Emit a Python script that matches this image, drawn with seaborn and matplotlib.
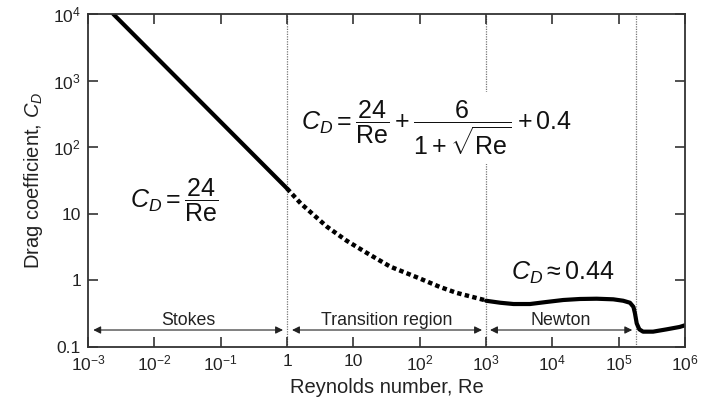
import matplotlib
matplotlib.use("Agg")
import matplotlib.pyplot as plt
import seaborn as sns
import pandas as pd
from matplotlib.ticker import FixedLocator, FixedFormatter, NullLocator

# ---- data ----
stokes_re = [2.4e-3, 1.0]
stokes_cd = [1.0e4, 24.0]

trans_re = [1.0, 1.6, 2.5, 4.0, 7.9, 16.0, 36.0, 100.0, 200.0, 360.0, 1000.0]
trans_cd = [24.0, 14.4, 9.7, 6.4, 3.95, 2.58, 1.61, 1.07, 0.80, 0.65, 0.50]

newton_re = [1000, 1640, 2600, 4600, 8100, 14600, 26000, 46500, 83000, 117000,
             148000, 167000, 176000, 187000, 205000, 233000, 330000, 525000,
             830000, 1000000]
newton_cd = [0.495, 0.462, 0.442, 0.442, 0.474, 0.508, 0.526, 0.531, 0.52, 0.495,
             0.462, 0.40, 0.32, 0.226, 0.184, 0.17, 0.17, 0.184, 0.20, 0.212]

region_bounds = [1.0, 1000.0, 1.8e5]
region_names = ["Stokes", "Transition region", "Newton"]
region_arrow_from = [1.2e-3, 1.19, 1150.0]
region_arrow_to = [0.87, 870.0, 1.6e5]

x_ticks = [1e-3, 1e-2, 1e-1, 1, 10, 1e2, 1e3, 1e4, 1e5, 1e6]
x_tick_labels = [r"$10^{-3}$", r"$10^{-2}$", r"$10^{-1}$", "1", "10",
                 r"$10^{2}$", r"$10^{3}$", r"$10^{4}$", r"$10^{5}$", r"$10^{6}$"]
y_ticks = [0.1, 1, 10, 1e2, 1e3, 1e4]
y_tick_labels = ["0.1", "1", "10", r"$10^{2}$", r"$10^{3}$", r"$10^{4}$"]

# ---- style ----
sns.set_theme(style="ticks")
plt.rcParams["font.family"] = ["Liberation Sans", "DejaVu Sans"]
plt.rcParams["mathtext.fontset"] = "custom"
plt.rcParams["mathtext.rm"] = "Liberation Sans"
plt.rcParams["mathtext.it"] = "Liberation Sans:italic"
plt.rcParams["mathtext.bf"] = "Liberation Sans:bold"
plt.rcParams["mathtext.sf"] = "Liberation Sans"

fig, ax = plt.subplots(figsize=(7.02, 4.07), dpi=100)
fig.subplots_adjust(left=0.1254, right=0.9758, top=0.9656, bottom=0.1474)

df_s = pd.DataFrame({"Re": stokes_re, "CD": stokes_cd})
df_t = pd.DataFrame({"Re": trans_re, "CD": trans_cd})
df_n = pd.DataFrame({"Re": newton_re, "CD": newton_cd})

sns.lineplot(data=df_s, x="Re", y="CD", ax=ax, color="black", lw=3, sort=False)
sns.lineplot(data=df_t, x="Re", y="CD", ax=ax, color="black", lw=3.2, sort=False,
             linestyle=(0, (1, 0.75)))
sns.lineplot(data=df_n, x="Re", y="CD", ax=ax, color="black", lw=3, sort=False)

ax.set_xscale("log")
ax.set_yscale("log")
ax.set_xlim(1e-3, 1e6)
ax.set_ylim(0.1, 1e4)

for b in region_bounds:
    ax.axvline(b, color="#777777", lw=0.9, ls=(0, (1, 1)), zorder=0)

for name, a, b in zip(region_names, region_arrow_from, region_arrow_to):
    ax.annotate("", xy=(b, 0.18), xytext=(a, 0.18),
                arrowprops=dict(arrowstyle="<|-|>", color="#222222", lw=0.8,
                                mutation_scale=11, shrinkA=0, shrinkB=0))
    xc = (a * b) ** 0.5
    ax.text(xc, 0.25, name, ha="center", va="center", fontsize=12.8, color="#222222")

ax.text(10 ** -1.70, 16.1, r"$C_D = \dfrac{24}{\mathrm{Re}}$", fontsize=18,
        ha="center", va="center", color="#111111")
ax.text(10 ** 2.25, 195, r"$C_D = \dfrac{24}{\mathrm{Re}} + \dfrac{6}{1 + \sqrt{\mathrm{Re}}} + 0.4$",
        fontsize=18, ha="center", va="center", color="#111111",
        bbox=dict(facecolor="white", edgecolor="none", pad=5))
ax.text(10 ** 4.16, 1.30, r"$C_D \approx 0.44$", fontsize=18,
        ha="center", va="center", color="#111111")

ax.xaxis.set_major_locator(FixedLocator(x_ticks))
ax.xaxis.set_major_formatter(FixedFormatter(x_tick_labels))
ax.xaxis.set_minor_locator(NullLocator())
ax.yaxis.set_major_locator(FixedLocator(y_ticks))
ax.yaxis.set_major_formatter(FixedFormatter(y_tick_labels))
ax.yaxis.set_minor_locator(NullLocator())

ax.tick_params(which="major", direction="in", length=7, width=1.1, top=True, right=True,
               labelsize=12.5, colors="#222222", pad=5)
for s in ax.spines.values():
    s.set_visible(True)
    s.set_linewidth(1.3)
    s.set_color("#333333")

ax.set_xlabel("Reynolds number, Re", fontsize=14.5, color="#222222", labelpad=3)
ax.set_ylabel(r"Drag coefficient, $C_D$", fontsize=14.5, color="#222222", labelpad=6)

fig.savefig("out.png", dpi=100)
